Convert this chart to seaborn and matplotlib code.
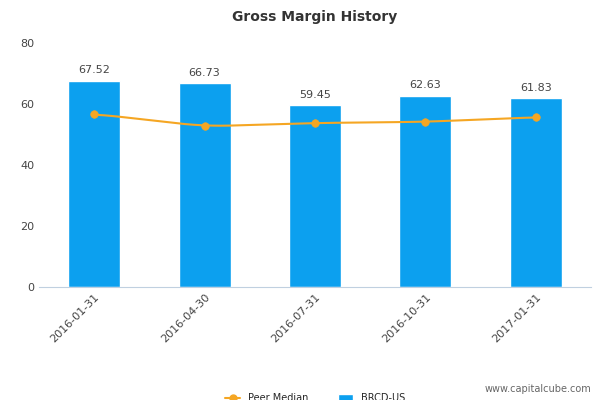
import numpy as np
import pandas as pd
import matplotlib
matplotlib.use('Agg')
import matplotlib.pyplot as plt
import seaborn as sns

dates = ['2016-01-31', '2016-04-30', '2016-07-31', '2016-10-31', '2017-01-31']
brcd = [67.52, 66.73, 59.45, 62.63, 61.83]
peer_median = [56.7, 52.6, 53.7, 54.1, 55.6]

df = pd.DataFrame({'date': dates, 'BRCD-US': brcd, 'Peer Median': peer_median})

sns.set_style('white')
fig = plt.figure(figsize=(6, 4), dpi=100)
ax = fig.add_axes([0.065, 0.283, 0.92, 0.61])

sns.barplot(data=df, x='date', y='BRCD-US', color='#0ca0ef', saturation=1,
            width=0.47, ax=ax, label='BRCD-US')
for i, v in enumerate(brcd):
    ax.text(i, v + 1.8, f'{v:.2f}', ha='center', va='bottom', fontsize=8, color='#444444')

# smoothed peer line
x = np.arange(len(dates))
xs = np.linspace(0, len(dates) - 1, 200)
ys = np.interp(xs, x, peer_median)
k = np.ones(25) / 25
ys_s = np.convolve(np.pad(ys, 12, mode='edge'), k, mode='valid')
ax.plot(xs, ys_s, color='#f5a623', lw=1.5)
sns.scatterplot(x=x, y=peer_median, color='#f5a623', s=30, edgecolor='#f5a623',
                zorder=5, ax=ax)
ax.plot([], [], color='#f5a623', marker='o', ms=5, label='Peer Median')

ax.set_ylim(0, 80)
ax.set_xlim(-0.5, 4.5)
ax.set_yticks([0, 20, 40, 60, 80])
ax.tick_params(axis='y', labelsize=8, colors='#444444', length=0)
ax.set_xticks(x)
ax.set_xticklabels(dates, rotation=45, ha='right', rotation_mode='anchor',
                   fontsize=8, color='#444444')
ax.set_xticks(np.arange(-0.5, 5, 1), minor=True)
ax.tick_params(axis='x', which='minor', length=8, color='#c0d0e0')
ax.tick_params(axis='x', which='major', length=0)
ax.set_xlabel('')
ax.set_ylabel('')
for s in ['top', 'right', 'left']:
    ax.spines[s].set_visible(False)
ax.spines['bottom'].set_color('#c0d0e0')

ax.set_title('Gross Margin History', fontsize=10, fontweight='bold',
             color='#333333', pad=16)
ax.legend(loc='upper center', bbox_to_anchor=(0.5, -0.4), ncol=2, frameon=False,
          fontsize=7, handlelength=1.6, columnspacing=3)
fig.text(0.985, 0.02, 'www.capitalcube.com', ha='right', fontsize=7, color='#666666')

fig.savefig('out.png', dpi=100)
